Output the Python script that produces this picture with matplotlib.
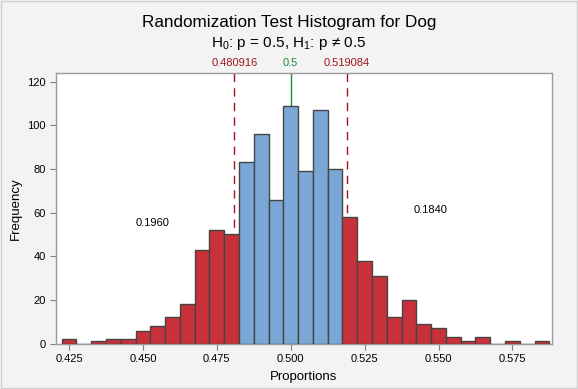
import numpy as np
import matplotlib
matplotlib.use("Agg")
from matplotlib import pyplot as plt

plt.rcParams['font.family'] = ['Liberation Sans', 'DejaVu Sans']
plt.rcParams['mathtext.fontset'] = 'custom'
plt.rcParams['mathtext.rm'] = 'Liberation Sans'
plt.rcParams['mathtext.it'] = 'Liberation Sans'

# bin centres (width 0.005) and counts, 1000 resamples
bin_centers = np.round(np.arange(0.425, 0.5851, 0.005), 3)
counts = [2, 0, 1, 2, 2, 6, 8, 12, 18, 43, 52, 50,
          83, 96, 66, 109, 79, 107, 80,
          58, 38, 31, 12, 20, 9, 7, 3, 1, 3, 0, 1, 0, 1]
bin_width = 0.005
lower_crit = 0.480916
upper_crit = 0.519084
null_p = 0.5
left_tail = "0.1960"
right_tail = "0.1840"

red = '#c8313a'
blue = '#7ba7d7'
dark_red = '#a0141e'
green = '#1a8a3a'

fig = plt.figure(figsize=(5.78, 3.89), dpi=100, facecolor='#f3f3f3')
ax = fig.add_axes([0.097, 0.1165, 0.858, 0.695])
ax.set_facecolor('white')

colors = [red if (c <= 0.4801 or c >= 0.5199) else blue for c in bin_centers]
ax.bar(bin_centers, counts, width=bin_width, color=colors,
       edgecolor='#454545', linewidth=1.0, zorder=3)

ax.axvline(lower_crit, color=dark_red, ls=(0, (6, 4.5)), lw=1.0, zorder=2)
ax.axvline(upper_crit, color=dark_red, ls=(0, (6, 4.5)), lw=1.0, zorder=2)
ax.axvline(null_p, color=green, lw=1.0, zorder=2)

ax.set_xlim(0.4206, 0.5884)
ax.set_ylim(0, 123.8)
ax.set_xticks([0.425, 0.450, 0.475, 0.500, 0.525, 0.550, 0.575])
ax.set_xticklabels(['0.425', '0.450', '0.475', '0.500', '0.525', '0.550', '0.575'])
ax.set_yticks(range(0, 121, 20))
ax.tick_params(labelsize=8, color='#808080', length=4, direction='out')

for s in ax.spines.values():
    s.set_color('#9a9a9a')
    s.set_linewidth(1.0)

trans = ax.get_xaxis_transform()
ax.text(lower_crit, 1.02, '0.480916', color=dark_red, fontsize=8,
        ha='center', va='bottom', transform=trans)
ax.text(null_p, 1.02, '0.5', color=green, fontsize=8,
        ha='center', va='bottom', transform=trans)
ax.text(upper_crit, 1.02, '0.519084', color=dark_red, fontsize=8,
        ha='center', va='bottom', transform=trans)

ax.text(0.4534, 55.2, left_tail, fontsize=8, ha='center', va='center')
ax.text(0.5474, 61.2, right_tail, fontsize=8, ha='center', va='center')

ax.set_xlabel('Proportions', fontsize=9.5, labelpad=5)
ax.set_ylabel('Frequency', fontsize=9.5, labelpad=4)

fig.text(0.5, 0.941, 'Randomization Test Histogram for Dog', fontsize=12.3,
         ha='center', va='center')
fig.text(0.5, 0.887, r'H$_0$: p = 0.5, H$_1$: p ≠ 0.5', fontsize=11,
         ha='center', va='center')

fig.patches.append(plt.Rectangle((0.001, 0.002), 0.997, 0.996, transform=fig.transFigure,
                                 fill=False, edgecolor='#d0d0d0', lw=1.0))

plt.savefig('out.png', dpi=100, facecolor=fig.get_facecolor())
